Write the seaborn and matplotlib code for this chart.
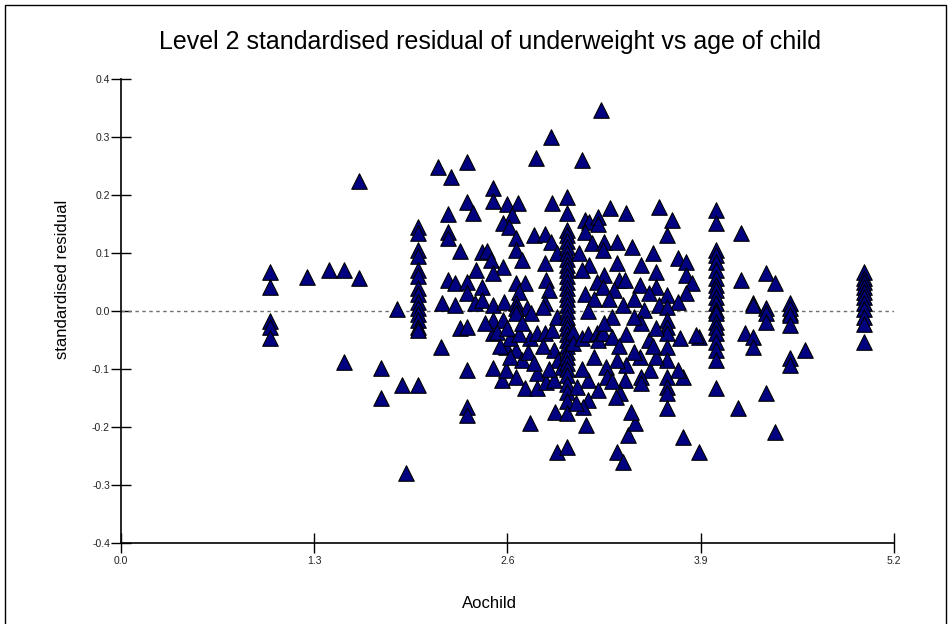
import matplotlib
matplotlib.use("Agg")
import matplotlib.pyplot as plt
import seaborn as sns
import pandas as pd
from matplotlib.patches import Rectangle

# ---------------- data ----------------
title = "Level 2 standardised residual of underweight vs age of child"
x_label = "Aochild"
y_label = "standardised residual"
x_ticks = [0.0, 1.3, 2.6, 3.9, 5.2]
y_ticks = [-0.4, -0.3, -0.2, -0.1, 0.0, 0.1, 0.2, 0.3, 0.4]

# isolated young children
age_left = [1.0, 1.0, 1.0, 1.0, 1.0, 1.25, 1.40, 1.50, 1.60, 1.60,
            1.50, 1.75, 1.75, 1.86, 1.89, 1.92]
res_left = [0.067, 0.041, -0.017, -0.027, -0.046, 0.059, 0.071, 0.071, 0.057, 0.224,
            -0.087, -0.098, -0.150, 0.003, -0.127, -0.279]

# column at age 2
res_age2 = [0.145, 0.135, 0.105, 0.095, 0.070, 0.060, 0.040, 0.030, 0.015, 0.005,
            -0.005, -0.015, -0.027, -0.033, -0.127]

# between 2 and 3
age_mid1 = [2.13, 2.22, 2.33, 2.79, 2.89, 2.50, 2.50, 2.33, 2.37, 2.20, 2.20, 2.20,
            2.60, 2.67, 2.63, 2.57, 2.61, 2.90, 2.78, 2.85, 2.89, 2.66, 2.66, 2.70,
            2.28, 2.43, 2.46, 2.49, 2.57, 2.39, 2.50, 2.20, 2.25, 2.33, 2.43, 2.66,
            2.72, 2.86, 2.88, 2.68, 2.16, 2.25, 2.33, 2.38, 2.43, 2.50, 2.58, 2.66,
            2.73, 2.85, 2.66, 2.85, 2.93,
            2.15, 2.28, 2.33, 2.33, 2.33, 2.33, 2.50, 2.56, 2.59, 2.50, 2.50, 2.59,
            2.66, 2.70, 2.66, 2.72, 2.80, 2.75, 2.80, 2.86, 2.91, 2.92, 2.93, 2.57,
            2.53, 2.62, 2.75, 2.80, 2.85, 2.90, 2.91, 2.94, 2.97, 2.66, 2.76, 2.84,
            2.93, 2.45, 2.55, 2.62, 2.68, 2.74, 2.78, 2.84, 2.88, 2.70, 2.60]
res_mid1 = [0.248, 0.231, 0.256, 0.263, 0.300, 0.212, 0.190, 0.188, 0.169, 0.167, 0.136, 0.126,
            0.184, 0.186, 0.165, 0.151, 0.145, 0.186, 0.131, 0.133, 0.119, 0.126, 0.105, 0.088,
            0.103, 0.102, 0.104, 0.088, 0.076, 0.070, 0.065, 0.053, 0.048, 0.050, 0.041, 0.048,
            0.048, 0.053, 0.036, 0.033, 0.014, 0.010, 0.031, 0.014, 0.019, 0.010, 0.016, 0.014,
            0.005, 0.014, 0.005, 0.083, 0.100,
            -0.062, -0.030, -0.027, -0.102, -0.165, -0.179, -0.098, -0.119, -0.102, -0.038, -0.015, -0.062,
            -0.067, -0.084, -0.113, -0.133, -0.133, -0.193, -0.107, -0.122, -0.119, -0.174, -0.243, -0.015,
            -0.036, -0.046, -0.046, -0.038, -0.038, -0.033, -0.067, -0.084, -0.096, -0.003, -0.003, 0.007,
            -0.010, -0.020, -0.060, -0.080, -0.040, -0.070, -0.090, -0.060, -0.100, -0.020, -0.030]

# column at age 3
res_age3 = [0.196, 0.169, 0.140, 0.130, 0.120, 0.110, 0.100, 0.090, 0.080, 0.070, 0.060,
            0.050, 0.040, 0.030, 0.020, 0.010, 0.000, -0.010, -0.020, -0.030, -0.040, -0.050,
            -0.060, -0.070, -0.080, -0.090, -0.100, -0.110, -0.125, -0.140, -0.155, -0.176, -0.234]

# between 3 and 4
age_mid2 = [3.10, 3.23, 3.12, 3.15, 3.21, 3.21, 3.29, 3.40, 3.62, 3.71, 3.67,
            3.12, 3.17, 3.25, 3.34, 3.24, 3.44, 3.58, 3.75, 3.80,
            3.50, 3.15, 3.25, 3.34, 3.35, 3.60, 3.80, 3.84,
            3.49, 3.60, 3.55, 3.67, 3.80, 3.75, 3.62, 3.52,
            3.20, 3.24, 3.32, 3.39, 3.08, 3.10, 3.12, 3.18, 3.28, 3.38, 3.45, 3.14,
            3.67, 3.67, 3.67, 3.67, 3.67, 3.67, 3.67, 3.67, 3.67, 3.67,
            3.04, 3.04, 3.10, 3.14, 3.20, 3.13, 3.41, 3.46, 3.43, 3.34, 3.38,
            3.56, 3.50, 3.50, 3.60, 3.49, 3.40, 3.34, 3.39, 3.36, 3.33, 3.26, 3.27, 3.21,
            3.14, 3.14, 3.11, 3.07, 3.06, 3.21, 3.24, 3.30,
            3.78, 3.75, 3.76, 3.89, 3.87, 3.78, 3.89,
            3.50, 3.45, 3.55, 3.60, 3.40, 3.30, 3.25, 3.35, 3.45, 3.58, 3.18, 3.10, 3.30]
res_mid2 = [0.260, 0.346, 0.157, 0.153, 0.162, 0.150, 0.178, 0.169, 0.179, 0.157, 0.131,
            0.136, 0.117, 0.119, 0.119, 0.105, 0.110, 0.100, 0.091, 0.084,
            0.079, 0.079, 0.062, 0.083, 0.053, 0.067, 0.062, 0.048,
            0.045, 0.041, 0.031, 0.028, 0.031, 0.016, 0.010, 0.002,
            0.050, 0.041, 0.036, 0.053, 0.100, 0.070, 0.030, 0.020, 0.020, 0.010, 0.020, 0.000,
            0.007, -0.015, -0.028, -0.038, -0.062, -0.084, -0.114, -0.131, -0.141, -0.167,
            -0.036, -0.055, -0.047, -0.040, -0.038, -0.196, -0.213, -0.193, -0.174, -0.243, -0.260,
            -0.102, -0.113, -0.124, -0.079, -0.079, -0.093, -0.084, -0.119, -0.141, -0.148, -0.096, -0.114, -0.136,
            -0.119, -0.153, -0.165, -0.131, -0.158, -0.050, -0.038, -0.045,
            -0.113, -0.102, -0.047, -0.045, -0.041, -0.217, -0.243,
            -0.020, -0.010, -0.050, -0.030, -0.040, -0.010, -0.020, -0.060, -0.070, -0.060, -0.080, -0.100, -0.120]

# column at age 4
res_age4 = [0.174, 0.151, 0.105, 0.096, 0.084, 0.071, 0.057, 0.045, 0.036, 0.024,
            0.014, 0.002, -0.003, -0.019, -0.028, -0.038, -0.053, -0.067, -0.084, -0.133]

# between 4 and 5
age_mid3 = [4.17, 4.17, 4.34, 4.40, 4.25, 4.34, 4.50, 4.50, 4.25, 4.34, 4.34, 4.50, 4.50, 4.50,
            4.20, 4.25, 4.25, 4.60, 4.50, 4.50, 4.34, 4.15, 4.40]
res_mid3 = [0.134, 0.053, 0.065, 0.048, 0.014, 0.005, 0.014, -0.004, 0.010, -0.003, -0.019, 0.005, -0.007, -0.024,
            -0.038, -0.045, -0.062, -0.067, -0.081, -0.093, -0.141, -0.167, -0.208]

# column at age 5
res_age5 = [0.067, 0.057, 0.050, 0.041, 0.033, 0.024, 0.014, 0.003, -0.010, -0.022, -0.053]

# ---------------- assemble ----------------
ages = (age_left + [2.0] * len(res_age2) + age_mid1 + [3.0] * len(res_age3)
        + age_mid2 + [4.0] * len(res_age4) + age_mid3 + [5.0] * len(res_age5))
resids = (res_left + res_age2 + res_mid1 + res_age3 + res_mid2
          + res_age4 + res_mid3 + res_age5)
df = pd.DataFrame({"age": ages, "resid": resids})

# ---------------- plot ----------------
sns.set_style("white")
plt.rcParams["font.family"] = ["Liberation Sans", "DejaVu Sans"]
plt.rcParams["text.color"] = "black"
plt.rcParams["axes.labelcolor"] = "black"

fig = plt.figure(figsize=(9.53, 6.24), dpi=100)
ax = fig.add_axes([0.127, 0.1293, 0.811, 0.7447])

ax.axhline(0.0, color="#707070", lw=1.0, ls=(0, (2.5, 2.5)), zorder=1)

sns.scatterplot(data=df, x="age", y="resid", marker="^", s=125,
                color="#000080", edgecolor="black", linewidth=0.8,
                ax=ax, zorder=3, legend=False)

ax.set_xlim(0, 5.2)
ax.set_ylim(-0.4, 0.4)
ax.set_xticks(x_ticks)
ax.set_xticklabels([f"{v:.1f}" for v in x_ticks])
ax.set_yticks(y_ticks)
ax.set_yticklabels([f"{v:.1f}" for v in y_ticks])
ax.tick_params(axis="both", which="major", bottom=True, left=True,
               direction="inout", length=14, width=1.0,
               color="black", labelsize=7.5, labelcolor="#222222", pad=2)
ax.tick_params(axis="y", pad=1)

for side in ["top", "right"]:
    ax.spines[side].set_visible(False)
for side in ["left", "bottom"]:
    ax.spines[side].set_color("black")
    ax.spines[side].set_linewidth(1.2)

ax.set_xlabel(x_label, fontsize=12, color="black")
ax.set_ylabel(y_label, fontsize=12, color="black")
ax.xaxis.set_label_coords(0.477, -0.113)
ax.yaxis.set_label_coords(-0.066, 0.567)

fig.text(0.514, 0.933, title, fontsize=18, ha="center", va="center", color="black")

# outer frame
fig.patches.append(Rectangle((5 / 953, -0.05), (946 - 5) / 953, 1 - 5 / 624 + 0.05,
                             transform=fig.transFigure, fill=False,
                             edgecolor="black", linewidth=1.0))

fig.savefig("out.png", dpi=100)
